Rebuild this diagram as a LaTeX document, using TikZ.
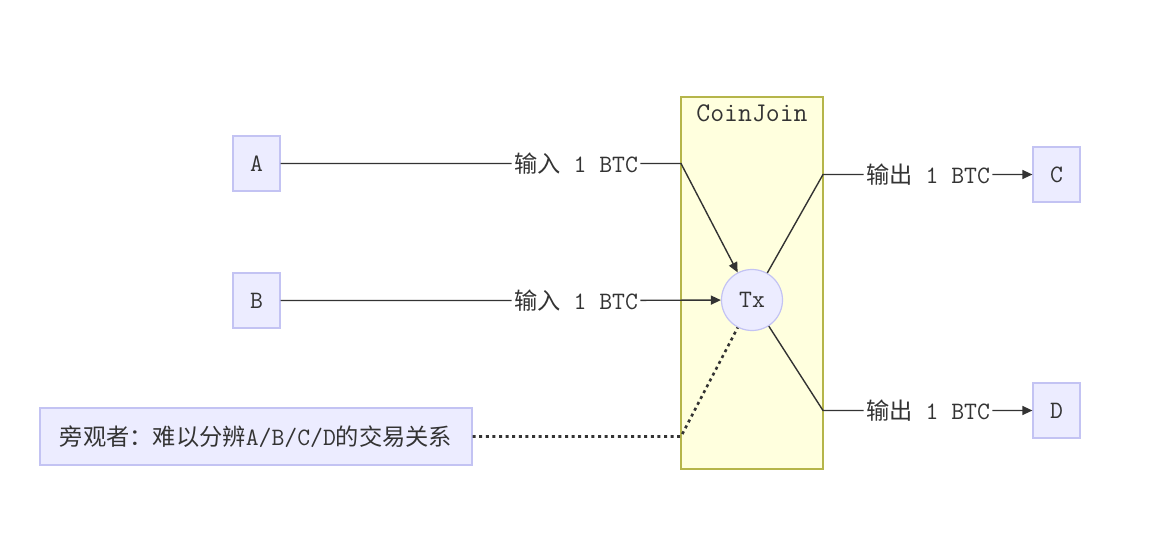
\documentclass[tikz,border=0pt]{standalone}
\usepackage{fontspec}
\usepackage{tikz}
\usetikzlibrary{arrows.meta}
\newfontfamily\cjk[Scale=0.93]{Noto Sans CJK SC}
\newcommand\zh[1]{{\cjk #1}}
\definecolor{nodeFill}{HTML}{ECECFF}
\definecolor{nodeLine}{HTML}{C3C3F3}
\definecolor{clusterFill}{HTML}{FFFFDE}
\definecolor{clusterLine}{HTML}{B5B54A}
\definecolor{edgeGray}{HTML}{333333}

\begin{document}
\begin{tikzpicture}[x=0.5pt, y=-0.5pt,
        every node/.style={font=\ttfamily\fontsize{12.5}{14}\selectfont, text=edgeGray},
        pbox/.style={draw=nodeLine, fill=nodeFill, line width=0.6pt, minimum width=23.5pt, minimum height=27.5pt, inner sep=0pt},
        elabel/.style={inner xsep=1pt, inner ysep=0pt},
        flow/.style={draw=edgeGray, line width=0.7pt, -{Triangle[length=5pt, width=4.5pt]}},
        plain/.style={draw=edgeGray, line width=1.3pt, dash pattern=on 1.5pt off 1.8pt}]
                \useasboundingbox (0,0) rectangle (1169,535);
                \node[draw=clusterLine, fill=clusterFill, line width=0.6pt, minimum width=71pt, minimum height=186pt, inner sep=0pt] (coinjoin) at (752,283) {};
                \node[font=\ttfamily\fontsize{13.5}{15}\selectfont] (cjtitle) at (752,113) {CoinJoin};
                \foreach \n/\x/\y in {A/256.5/163.5, B/256.5/300.5, C/1056.5/174.5, D/1056.5/410.5}
                    \node[pbox] (\n) at (\x, \y) {\n};
                \node[circle, draw=nodeLine, fill=nodeFill, line width=0.6pt, minimum size=30.5pt, inner sep=0pt] (tx) at (752, 300) {Tx};
                \node[pbox, minimum width=216pt, minimum height=28.5pt] (obs) at (256, 436.5) {\zh{旁观者：难以分辨}A/B/C/D\zh{的交易关系}};
                \node[elabel] (inA) at (576, 163.5) {\zh{输入} 1 BTC};
                \node[elabel] (inB) at (576, 300.5) {\zh{输入} 1 BTC};
                \node[elabel] (outC) at (928, 174.5) {\zh{输出} 1 BTC};
                \node[elabel] (outD) at (928, 410.5) {\zh{输出} 1 BTC};
                \coordinate (ka) at (681, 163.5);
                \coordinate (kc) at (823, 174.5);
                \coordinate (kd) at (823, 410.5);
                \coordinate (ko) at (681, 436.5);
                \draw[flow] (A) -- (inA) -- (ka) -- (tx);
                \draw[flow] (B) -- (inB) -- (tx);
                \draw[flow] (tx) -- (kc) -- (outC) -- (C);
                \draw[flow] (tx) -- (kd) -- (outD) -- (D);
                \draw[plain] (obs) -- (ko) -- (tx);
            \end{tikzpicture}
\end{document}
